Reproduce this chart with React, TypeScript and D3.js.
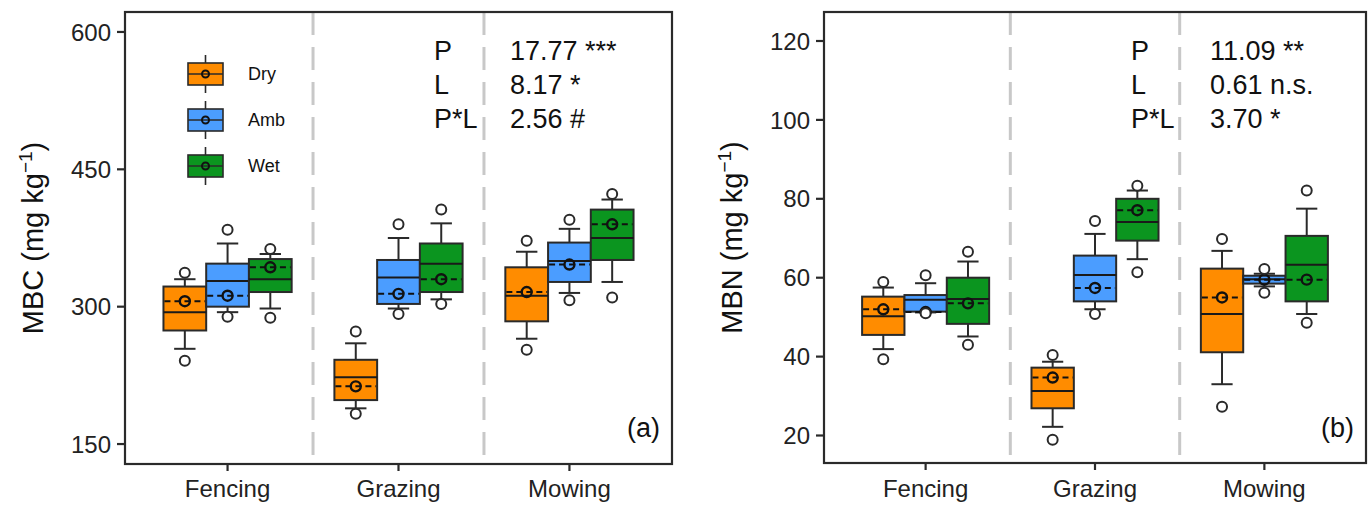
import React from "react";
import * as d3 from "d3";

const categories = ["Fencing", "Grazing", "Mowing"];
const levels = ["Dry", "Amb", "Wet"];
const levelColors = ["#FF8C00", "#4B9DFF", "#0B951F"];

// MBC, order: Fencing Dry/Amb/Wet, Grazing Dry/Amb/Wet, Mowing Dry/Amb/Wet
const mbcLowPt = [241, 289, 288, 183, 292, 303, 253, 307, 310];
const mbcLowW = [254, 294, 298, 189, 298, 308, 265, 315, 327];
const mbcQ1 = [274, 300, 316, 198, 303, 316, 284, 327, 351];
const mbcMed = [294, 328, 330, 223, 332, 347, 312, 350, 375];
const mbcQ3 = [322, 347, 352, 242, 351, 369, 343, 370, 406];
const mbcHighW = [330, 369, 357.5, 260, 375, 391, 360, 385, 417];
const mbcHighPt = [337, 384, 363, 273, 390, 406, 372, 395, 423];
const mbcMean = [306, 312, 343, 213, 314, 330, 316, 346, 390];

// MBN
const mbnLowPt = [39.3, 51.0, 43.0, 18.9, 50.8, 61.4, 27.3, 56.2, 48.6];
const mbnLowW = [41.9, 51.2, 45.1, 22.2, 52.0, 64.7, 33.0, 57.8, 50.8];
const mbnQ1 = [45.5, 51.4, 48.3, 26.9, 54.0, 69.4, 41.1, 58.5, 54.0];
const mbnMed = [50.2, 54.4, 54.6, 31.3, 60.7, 74.1, 50.8, 59.6, 63.3];
const mbnQ3 = [55.2, 55.6, 60.0, 37.2, 65.6, 80.0, 62.3, 60.5, 70.6];
const mbnHighW = [57.5, 58.6, 64.1, 38.7, 71.1, 82.1, 66.8, 61.0, 77.5];
const mbnHighPt = [58.9, 60.6, 66.6, 40.4, 74.4, 83.3, 69.8, 62.2, 82.1];
const mbnMean = [52.0, 51.3, 53.5, 34.7, 57.4, 77.1, 55.0, 59.5, 59.5];

const mbcTicks = [150, 300, 450, 600];
const mbnTicks = [20, 40, 60, 80, 100, 120];

const statLabels = ["P", "L", "P*L"];
const mbcStats = ["17.77 ***", "8.17 *", "2.56 #"];
const mbnStats = ["11.09 **", "0.61 n.s.", "3.70 *"];

const FONT = "'Liberation Sans', Arial, Helvetica, sans-serif";
const INK = "#2a2a2a";

type PanelProps = {
  left: number;
  right: number;
  top: number;
  bottom: number;
  domain: [number, number];
  ticks: number[];
  title: string;
  titleX: number;
  tag: string;
  lowPt: number[];
  lowW: number[];
  q1: number[];
  med: number[];
  q3: number[];
  highW: number[];
  highPt: number[];
  mean: number[];
  stats: string[];
  statX: number;
  statValX: number;
  legend: boolean;
};

function Panel(p: PanelProps) {
  const x = d3.scaleLinear().domain([0.4, 3.6]).range([p.left, p.right]);
  const y = d3.scaleLinear().domain(p.domain).range([p.bottom, p.top]);
  const bw = x(1.25) - x(1);
  const boxes = [];
  for (let c = 0; c < categories.length; c++) {
    for (let l = 0; l < levels.length; l++) {
      const i = c * 3 + l;
      const cx = x(c + 1 + (l - 1) * 0.25);
      const x0 = cx - bw / 2;
      boxes.push(
        <g key={i}>
          <line x1={cx} x2={cx} y1={y(p.lowW[i])} y2={y(p.q1[i])} stroke={INK} strokeWidth={2} />
          <line x1={cx} x2={cx} y1={y(p.highW[i])} y2={y(p.q3[i])} stroke={INK} strokeWidth={2} />
          <line x1={cx - bw / 4} x2={cx + bw / 4} y1={y(p.lowW[i])} y2={y(p.lowW[i])} stroke={INK} strokeWidth={2} />
          <line x1={cx - bw / 4} x2={cx + bw / 4} y1={y(p.highW[i])} y2={y(p.highW[i])} stroke={INK} strokeWidth={2} />
          <rect x={x0} y={y(p.q3[i])} width={bw} height={y(p.q1[i]) - y(p.q3[i])} fill={levelColors[l]} stroke={INK} strokeWidth={2} />
          <line x1={x0} x2={x0 + bw} y1={y(p.med[i])} y2={y(p.med[i])} stroke="#1a1a1a" strokeWidth={2} />
          <line x1={x0 + 1} x2={x0 + bw - 1} y1={y(p.mean[i])} y2={y(p.mean[i])} stroke="#111" strokeWidth={2} strokeDasharray="6,4" />
          <circle cx={cx} cy={y(p.mean[i])} r={5} fill="none" stroke="#111" strokeWidth={2.4} />
          <circle cx={cx} cy={y(p.lowPt[i])} r={5} fill="#fff" stroke={INK} strokeWidth={2} />
          <circle cx={cx} cy={y(p.highPt[i])} r={5} fill="#fff" stroke={INK} strokeWidth={2} />
        </g>
      );
    }
  }
  const midY = (p.top + p.bottom) / 2;
  return (
    <g fontFamily={FONT}>
      {[1.5, 2.5].map((s) => (
        <line key={s} x1={x(s)} x2={x(s)} y1={p.top} y2={p.bottom} stroke="#c8c8c8" strokeWidth={3} strokeDasharray="23,12" />
      ))}
      {boxes}
      <rect x={p.left} y={p.top} width={p.right - p.left} height={p.bottom - p.top} fill="none" stroke={INK} strokeWidth={2.2} />
      {p.ticks.map((t) => (
        <g key={t}>
          <line x1={p.left - 8} x2={p.left} y1={y(t)} y2={y(t)} stroke={INK} strokeWidth={2.2} />
          <text x={p.left - 14} y={y(t)} dy="0.36em" textAnchor="end" fontSize={24} fill="#222">
            {t}
          </text>
        </g>
      ))}
      {categories.map((c, i) => (
        <g key={c}>
          <line x1={x(i + 1)} x2={x(i + 1)} y1={p.bottom} y2={p.bottom + 7} stroke={INK} strokeWidth={2.2} />
          <text x={x(i + 1)} y={497} textAnchor="middle" fontSize={24} fill="#222">
            {c}
          </text>
        </g>
      ))}
      <text transform={`translate(${p.titleX},${midY}) rotate(-90)`} textAnchor="middle" fontSize={29} fill="#111">
        {p.title}
        <tspan dy={-11} fontSize={19}>
          −1
        </tspan>
        <tspan dy={11}>)</tspan>
      </text>
      {statLabels.map((s, i) => (
        <g key={s}>
          <text x={p.statX} y={60 + i * 34} fontSize={27} fill="#111">
            {s}
          </text>
          <text x={p.statValX} y={60 + i * 34} fontSize={27} fill="#111">
            {p.stats[i]}
          </text>
        </g>
      ))}
      <text x={p.right - 12} y={437} textAnchor="end" fontSize={27} fill="#111">
        {p.tag}
      </text>
      {p.legend &&
        levels.map((lv, i) => {
          const cy = 74 + i * 46;
          const kx = 188;
          const kw = 35;
          return (
            <g key={lv}>
              <line x1={kx + kw / 2} x2={kx + kw / 2} y1={cy - 19} y2={cy + 19} stroke={INK} strokeWidth={1.6} />
              <rect x={kx} y={cy - 11} width={kw} height={22} fill={levelColors[i]} stroke={INK} strokeWidth={1.6} />
              <line x1={kx} x2={kx + kw} y1={cy} y2={cy} stroke={INK} strokeWidth={1.6} />
              <circle cx={kx + kw / 2} cy={cy} r={3.5} fill="none" stroke="#111" strokeWidth={2} />
              <text x={248} y={cy} dy="0.36em" fontSize={18} fill="#111">
                {lv}
              </text>
            </g>
          );
        })}
    </g>
  );
}

export default function App() {
  return (
    <svg
      width={1370}
      height={506}
      style={{ position: "absolute", left: 0, top: 0, background: "#fff" }}
    >
      <rect width={1370} height={506} fill="#fff" />
      <Panel
        left={125}
        right={672}
        top={12}
        bottom={464}
        domain={[128.2, 621.8]}
        ticks={mbcTicks}
        title="MBC (mg kg"
        titleX={43}
        tag="(a)"
        lowPt={mbcLowPt}
        lowW={mbcLowW}
        q1={mbcQ1}
        med={mbcMed}
        q3={mbcQ3}
        highW={mbcHighW}
        highPt={mbcHighPt}
        mean={mbcMean}
        stats={mbcStats}
        statX={434}
        statValX={510}
        legend={true}
      />
      <Panel
        left={824}
        right={1366}
        top={12}
        bottom={463}
        domain={[13.03, 127.35]}
        ticks={mbnTicks}
        title="MBN (mg kg"
        titleX={742}
        tag="(b)"
        lowPt={mbnLowPt}
        lowW={mbnLowW}
        q1={mbnQ1}
        med={mbnMed}
        q3={mbnQ3}
        highW={mbnHighW}
        highPt={mbnHighPt}
        mean={mbnMean}
        stats={mbnStats}
        statX={1131}
        statValX={1210}
        legend={false}
      />
    </svg>
  );
}
